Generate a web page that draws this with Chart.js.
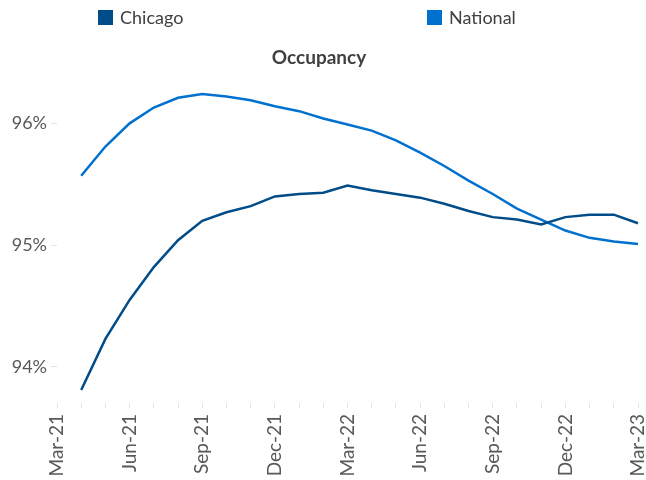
<!DOCTYPE html>
<html>
<head>
<meta charset="utf-8">
<script src="https://cdn.jsdelivr.net/npm/chart.js@4"></script>
<style>
  body { margin: 0; background: #fff; }
  #wrap { position: relative; width: 646px; height: 480px; }
  #legend { position: absolute; top: 0; left: 0; width: 646px; height: 34px; font-family: Lato, sans-serif; font-size: 18px; color: #404040; }
  .item { position: absolute; top: 7px; height: 20px; display: flex; align-items: center; }
  .box { width: 15px; height: 15px; margin-right: 7px; }
</style>
</head>
<body>
<div id="wrap">
  <canvas id="myChart" width="646" height="480"></canvas>
  <div id="legend"></div>
</div>
<script>
// occupancy line chart

const months = ['Mar-21', 'Apr-21', 'May-21', 'Jun-21', 'Jul-21', 'Aug-21', 'Sep-21', 'Oct-21', 'Nov-21', 'Dec-21',
    'Jan-22', 'Feb-22', 'Mar-22', 'Apr-22', 'May-22', 'Jun-22', 'Jul-22', 'Aug-22', 'Sep-22', 'Oct-22', 'Nov-22', 'Dec-22',
    'Jan-23', 'Feb-23', 'Mar-23']

const chicagoValues = [null, 93.81, 94.23, 94.55, 94.82, 95.04, 95.20, 95.27, 95.32, 95.40,
    95.42, 95.43, 95.49, 95.45, 95.42, 95.39, 95.34, 95.28, 95.23, 95.21, 95.17, 95.23,
    95.25, 95.25, 95.18]

const nationalValues = [null, 95.57, 95.81, 96.00, 96.13, 96.21, 96.24, 96.22, 96.19, 96.14,
    96.10, 96.04, 95.99, 95.94, 95.86, 95.76, 95.65, 95.53, 95.42, 95.30, 95.21, 95.12,
    95.06, 95.03, 95.01]

const yTickValues = [94, 95, 96]

const grey = '#595959'

const data = {
    labels: months,
    datasets: [
        {
            label: 'Chicago',
            borderColor: '#004c89',
            backgroundColor: '#004c89',
            data: chicagoValues,
        },
        {
            label: 'National',
            borderColor: '#0071ce',
            backgroundColor: '#0071ce',
            data: nationalValues,
        },
    ]
}

const config = {
    type: 'line',
    data: data,
    options: {
        responsive: false,
        animation: false,
        layout: { padding: { left: 0, right: 8, top: 0, bottom: 0 } },
        elements: {
            line: { borderWidth: 2.5, tension: 0 },
            point: { radius: 0 }
        },
        plugins: {
            legend: { display: false },
            tooltip: { enabled: false },
            title: {
                display: true,
                text: 'Occupancy',
                color: '#404040',
                font: { family: 'Lato', size: 19, weight: 'bold' },
                padding: { top: 46, bottom: 18 }
            }
        },
        scales: {
            x: {
                offset: false,
                border: { display: false },
                grid: { drawOnChartArea: false, drawTicks: true, tickLength: 5, color: '#e3e3e3' },
                ticks: {
                    autoSkip: false,
                    minRotation: 90,
                    maxRotation: 90,
                    padding: 6,
                    color: grey,
                    font: { family: 'Lato', size: 19 },
                    callback: (v, i) => i % 3 === 0 ? months[i] : ''
                },
                afterFit: (scale) => {
                    scale.height = 77
                    scale.paddingLeft = 0
                    scale.paddingRight = 0
                }
            },
            y: {
                min: 93.704,
                max: 96.30,
                border: { display: false },
                grid: { drawOnChartArea: false, drawTicks: true, tickLength: 6, color: '#e3e3e3' },
                afterBuildTicks: (scale) => {
                    scale.ticks = yTickValues.map(v => ({ value: v }))
                },
                ticks: {
                    padding: 4,
                    color: grey,
                    font: { family: 'Lato', size: 18 },
                    callback: (v) => v + '%'
                },
                afterFit: (scale) => {
                    scale.width = 57
                }
            }
        }
    }
}

const occupancyChart = new Chart(document.getElementById('myChart'), config)

// html legend, spread like the original
const legendSpots = [98, 427]
const legendEl = document.getElementById('legend')
occupancyChart.data.datasets.forEach((ds, i) => {
    const item = document.createElement('div')
    item.className = 'item'
    item.style.left = legendSpots[i] + 'px'
    item.innerHTML = '<span class="box" style="background:' + ds.backgroundColor + '"></span><span>' + ds.label + '</span>'
    legendEl.appendChild(item)
})
</script>
</body>
</html>
